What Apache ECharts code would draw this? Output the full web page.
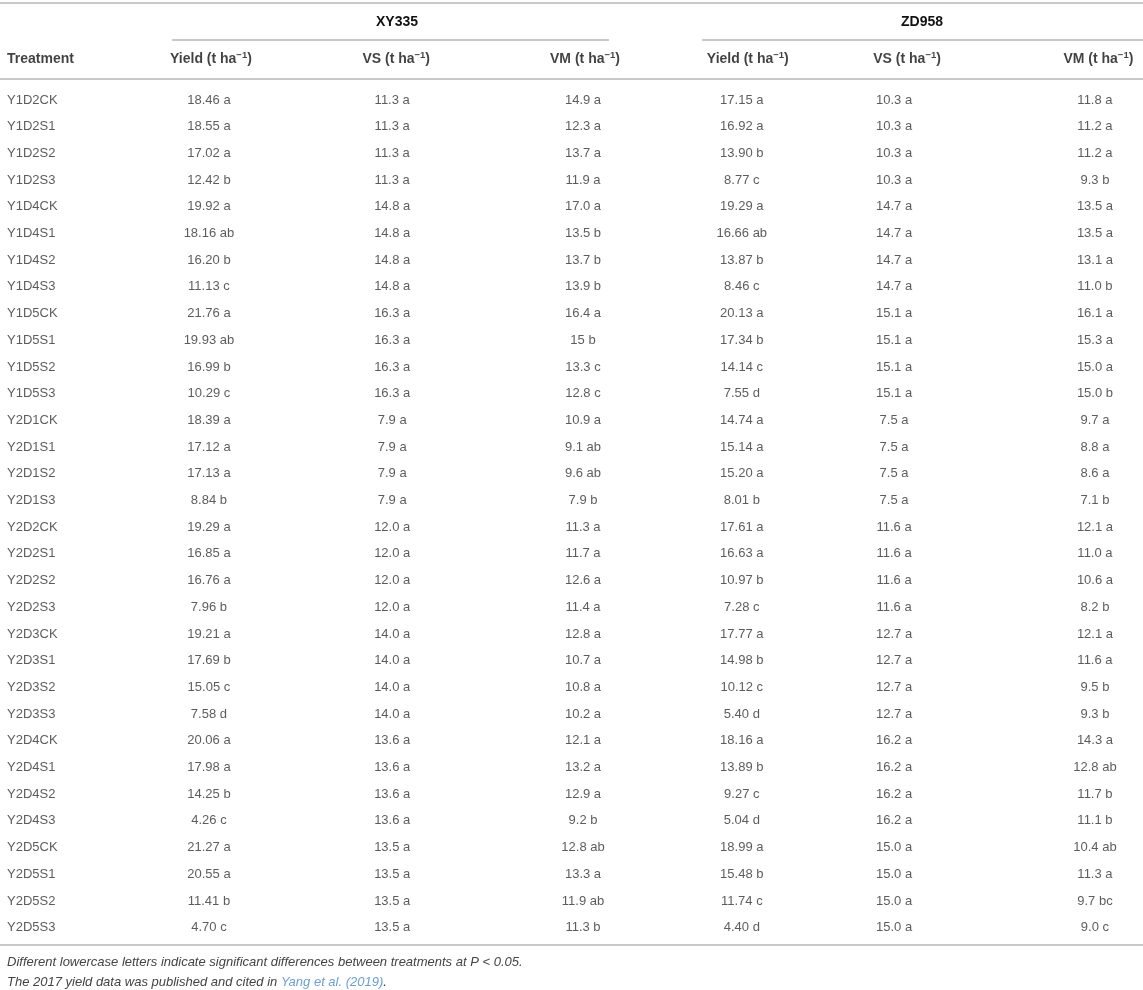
<!DOCTYPE html>
<html>
<head>
<meta charset="utf-8">
<script src="https://cdn.jsdelivr.net/npm/echarts@6/dist/echarts.min.js"></script>
<style>
html, body { margin: 0; padding: 0; background: #fff; }
#chart { width: 1143px; height: 990px; }
</style>
</head>
<body>
<div id="chart"></div>
<script>
// table content
var treatments = ['Y1D2CK','Y1D2S1','Y1D2S2','Y1D2S3','Y1D4CK','Y1D4S1','Y1D4S2','Y1D4S3',
    'Y1D5CK','Y1D5S1','Y1D5S2','Y1D5S3','Y2D1CK','Y2D1S1','Y2D1S2','Y2D1S3',
    'Y2D2CK','Y2D2S1','Y2D2S2','Y2D2S3','Y2D3CK','Y2D3S1','Y2D3S2','Y2D3S3',
    'Y2D4CK','Y2D4S1','Y2D4S2','Y2D4S3','Y2D5CK','Y2D5S1','Y2D5S2','Y2D5S3'];
var xyYield = ['18.46 a','18.55 a','17.02 a','12.42 b','19.92 a','18.16 ab','16.20 b','11.13 c',
    '21.76 a','19.93 ab','16.99 b','10.29 c','18.39 a','17.12 a','17.13 a','8.84 b',
    '19.29 a','16.85 a','16.76 a','7.96 b','19.21 a','17.69 b','15.05 c','7.58 d',
    '20.06 a','17.98 a','14.25 b','4.26 c','21.27 a','20.55 a','11.41 b','4.70 c'];
var xyVS = ['11.3 a','11.3 a','11.3 a','11.3 a','14.8 a','14.8 a','14.8 a','14.8 a',
    '16.3 a','16.3 a','16.3 a','16.3 a','7.9 a','7.9 a','7.9 a','7.9 a',
    '12.0 a','12.0 a','12.0 a','12.0 a','14.0 a','14.0 a','14.0 a','14.0 a',
    '13.6 a','13.6 a','13.6 a','13.6 a','13.5 a','13.5 a','13.5 a','13.5 a'];
var xyVM = ['14.9 a','12.3 a','13.7 a','11.9 a','17.0 a','13.5 b','13.7 b','13.9 b',
    '16.4 a','15 b','13.3 c','12.8 c','10.9 a','9.1 ab','9.6 ab','7.9 b',
    '11.3 a','11.7 a','12.6 a','11.4 a','12.8 a','10.7 a','10.8 a','10.2 a',
    '12.1 a','13.2 a','12.9 a','9.2 b','12.8 ab','13.3 a','11.9 ab','11.3 b'];
var zdYield = ['17.15 a','16.92 a','13.90 b','8.77 c','19.29 a','16.66 ab','13.87 b','8.46 c',
    '20.13 a','17.34 b','14.14 c','7.55 d','14.74 a','15.14 a','15.20 a','8.01 b',
    '17.61 a','16.63 a','10.97 b','7.28 c','17.77 a','14.98 b','10.12 c','5.40 d',
    '18.16 a','13.89 b','9.27 c','5.04 d','18.99 a','15.48 b','11.74 c','4.40 d'];
var zdVS = ['10.3 a','10.3 a','10.3 a','10.3 a','14.7 a','14.7 a','14.7 a','14.7 a',
    '15.1 a','15.1 a','15.1 a','15.1 a','7.5 a','7.5 a','7.5 a','7.5 a',
    '11.6 a','11.6 a','11.6 a','11.6 a','12.7 a','12.7 a','12.7 a','12.7 a',
    '16.2 a','16.2 a','16.2 a','16.2 a','15.0 a','15.0 a','15.0 a','15.0 a'];
var zdVM = ['11.8 a','11.2 a','11.2 a','9.3 b','13.5 a','13.5 a','13.1 a','11.0 b',
    '16.1 a','15.3 a','15.0 a','15.0 b','9.7 a','8.8 a','8.6 a','7.1 b',
    '12.1 a','11.0 a','10.6 a','8.2 b','12.1 a','11.6 a','9.5 b','9.3 b',
    '14.3 a','12.8 ab','11.7 b','11.1 b','10.4 ab','11.3 a','9.7 bc','9.0 c'];

var colKeys = ['Treatment','XY335 Yield','XY335 VS','XY335 VM','ZD958 Yield','ZD958 VS','ZD958 VM'];
var colHeads = ['Treatment','Yield','VS','VM','Yield','VS','VM'];
var groups = ['XY335','ZD958'];
var noteLines = ['Different lowercase letters indicate significant differences between treatments at P < 0.05.',
    'The 2017 yield data was published and cited in '];
var noteRef = 'Yang et al. (2019)';

// layout
var font = '"Liberation Sans", Arial, Helvetica, sans-serif';
var rowTop = 86.65, rowH = 26.7;
var dataShift = [-74.6, -36, -16, 11.5, 7, -4, 33.6];
var headShift = [-74.6, -34, -12, 13.5, 13, 9, 37];
var headDy = -40.5;
var ruleColor = '#c9c9c9';

var chart = echarts.init(document.getElementById('chart'));
var cols = [treatments, xyYield, xyVS, xyVM, zdYield, zdVS, zdVM];

var series = cols.map(function (arr, c) {
    return {
        type: 'scatter',
        symbolSize: 1,
        itemStyle: { color: 'rgba(0,0,0,0)' },
        silent: true,
        data: arr.map(function (txt, r) { return { value: [c, r], name: txt }; }),
        label: {
            show: true, position: 'inside', formatter: '{b}',
            align: c === 0 ? 'left' : 'center',
            offset: [dataShift[c], 0],
            color: '#333', fontSize: 13, fontFamily: font
        }
    };
});

// column headers
series.push({
    type: 'scatter',
    symbolSize: 1,
    itemStyle: { color: 'rgba(0,0,0,0)' },
    silent: true,
    data: colHeads.map(function (h, c) {
        return {
            value: [c, 0], name: h,
            label: { align: c === 0 ? 'left' : 'center', offset: [headShift[c], headDy] }
        };
    }),
    label: {
        show: true, position: 'inside',
        formatter: function (p) {
            if (p.dataIndex === 0) return '{b|' + p.name + '}';
            return '{b|' + p.name + ' (t ha}{s|\u22121}{b|)}';
        },
        rich: {
            b: { fontSize: 14, fontWeight: 'bold', color: '#111', fontFamily: font, lineHeight: 19 },
            s: { fontSize: 9.5, fontWeight: 'bold', color: '#111', fontFamily: font, lineHeight: 11, verticalAlign: 'top' }
        }
    }
});

function rule(x1, x2, y) {
    return { type: 'line', silent: true, shape: { x1: x1, y1: y, x2: x2, y2: y },
        style: { stroke: ruleColor, lineWidth: 2 } };
}

chart.setOption({
    animation: false,
    backgroundColor: '#fff',
    grid: { left: 0, right: 0, top: rowTop, height: rowH * treatments.length },
    xAxis: {
        type: 'category', data: colKeys, boundaryGap: true,
        axisLine: { show: false }, axisTick: { show: false }, axisLabel: { show: false }, splitLine: { show: false }
    },
    yAxis: {
        type: 'category', data: treatments, inverse: true, boundaryGap: true,
        axisLine: { show: false }, axisTick: { show: false }, axisLabel: { show: false }, splitLine: { show: false }
    },
    series: series,
    graphic: [
        rule(0, 1143, 3),
        rule(172, 609, 40),
        rule(702, 1143, 40),
        rule(0, 1143, 79),
        rule(0, 1143, 945),
        { type: 'text', x: 397, y: 22, silent: true,
          style: { text: groups[0], fontSize: 14, fontWeight: 'bold', fontFamily: font, fill: '#111', textAlign: 'center', textVerticalAlign: 'middle' } },
        { type: 'text', x: 922, y: 22, silent: true,
          style: { text: groups[1], fontSize: 14, fontWeight: 'bold', fontFamily: font, fill: '#111', textAlign: 'center', textVerticalAlign: 'middle' } },
        { type: 'text', x: 7, y: 962, silent: true,
          style: { text: noteLines[0], fontSize: 13, fontStyle: 'italic', fontFamily: font, fill: '#444', textAlign: 'left', textVerticalAlign: 'middle' } },
        { type: 'text', x: 7, y: 982, silent: true,
          style: {
              text: '{t|' + noteLines[1] + '}{l|' + noteRef + '}{t|.}',
              textAlign: 'left', textVerticalAlign: 'middle',
              rich: {
                  t: { fontSize: 13, fontStyle: 'italic', fontFamily: font, fill: '#444' },
                  l: { fontSize: 13, fontStyle: 'italic', fontFamily: font, fill: '#6a9fd4' }
              }
          } }
    ]
});
</script>
</body>
</html>
